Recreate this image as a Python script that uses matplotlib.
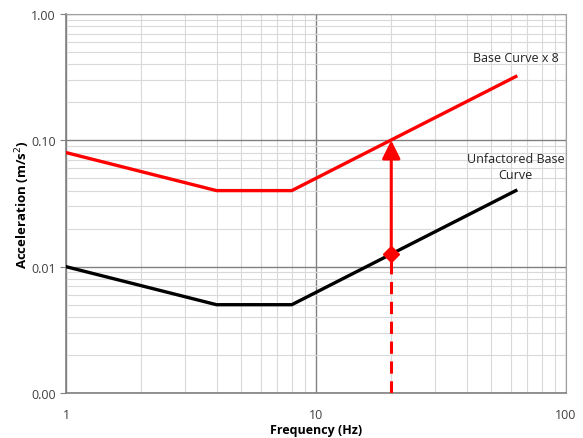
import matplotlib.pyplot as plt
from matplotlib.ticker import FixedLocator, LogLocator, NullFormatter

# base curve corner points (Hz, m/s2)
freq = [1, 4, 8, 63]
base_acc = [0.01, 0.005, 0.005, 0.04]
factor = 8
factored_acc = [a * factor for a in base_acc]

# marked frequency
check_freq = 20
check_base = 0.0125
check_factored = 0.1

y_ticks = [0.001, 0.01, 0.1, 1.0]
y_labels = ["0.00", "0.01", "0.10", "1.00"]
x_ticks = [1, 10, 100]
x_labels = ["1", "10", "100"]

plt.rcParams['font.family'] = ['Open Sans', 'DejaVu Sans']

fig = plt.figure(figsize=(5.83, 4.39), dpi=100)
ax = fig.add_axes([66 / 583, 45 / 439, 500 / 583, 379 / 439])

ax.set_xscale("log")
ax.set_yscale("log")
ax.set_xlim(1, 100)
ax.set_ylim(0.001, 1)

# grid
ax.xaxis.set_minor_locator(LogLocator(base=10, subs=range(2, 10)))
ax.yaxis.set_minor_locator(LogLocator(base=10, subs=range(2, 10)))
ax.xaxis.set_minor_formatter(NullFormatter())
ax.yaxis.set_minor_formatter(NullFormatter())
ax.grid(which="minor", color="#d9d9d9", linewidth=0.8)
ax.grid(which="major", color="#808080", linewidth=1.0)
ax.set_axisbelow(True)

ax.yaxis.set_major_locator(FixedLocator(y_ticks))
ax.set_yticklabels(y_labels)
ax.xaxis.set_major_locator(FixedLocator(x_ticks))
ax.set_xticklabels(x_labels)
ax.tick_params(axis="both", which="minor", length=0)
ax.tick_params(axis="y", which="major", length=4, color="#808080", labelsize=9, labelcolor="#404040")
ax.tick_params(axis="x", which="major", length=0, pad=11, labelsize=9, labelcolor="#404040")

for side in ["left", "bottom"]:
    ax.spines[side].set_color("#808080")
    ax.spines[side].set_linewidth(1.2)
for side in ["top", "right"]:
    ax.spines[side].set_color("#a0a0a0")
    ax.spines[side].set_linewidth(0.8)

# curves
ax.plot(freq, factored_acc, color="#ff0000", linewidth=2.4, solid_joinstyle="round", zorder=3)
ax.plot(freq, base_acc, color="black", linewidth=2.4, zorder=3)

# arrow from base to factored curve
ax.annotate("", xy=(check_freq, check_factored), xytext=(check_freq, check_base),
            arrowprops=dict(arrowstyle="-|>,head_length=1.1,head_width=0.55",
                            color="#ff0000", linewidth=2.2, shrinkA=0, shrinkB=0),
            zorder=4)
ax.plot([check_freq], [check_base], marker="D", markersize=8, color="#ff0000", zorder=5)
ax.plot([check_freq, check_freq], [0.001, check_base], color="#ff0000",
        linewidth=2.2, linestyle=(0, (4, 2.5)), zorder=4)

# labels
ax.text(63, 0.40, "Base Curve x 8", ha="center", va="bottom", fontsize=9, color="#222222")
ax.text(63, 0.048, "Unfactored Base\nCurve", ha="center", va="bottom", fontsize=9,
        color="#222222", linespacing=1.3)

ax.set_xlabel("Frequency (Hz)", fontsize=9, fontweight="bold", labelpad=1)
ax.set_ylabel("Acceleration (m/s$^2$)", fontsize=9.5, fontweight="bold", labelpad=-1)

fig.savefig("out.png", dpi=100)
